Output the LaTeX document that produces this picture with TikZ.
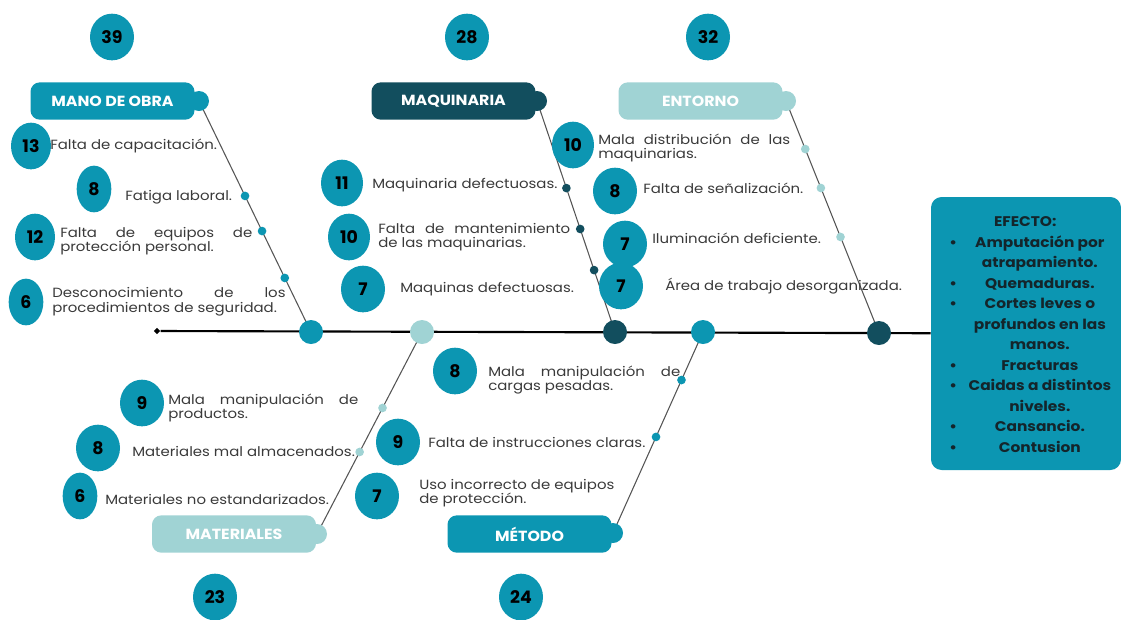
\documentclass[tikz,border=0pt]{standalone}
\usepackage{fontspec}
\setmainfont{Poppins}
\newfontfamily\causefont[FakeStretch=1.12]{Poppins}
\newfontfamily\catfont[FakeStretch=1.08]{Poppins}
\newfontfamily\efffont[FakeStretch=1.1]{Poppins}
\usepackage{tikz}
\usetikzlibrary{positioning,shapes.geometric,backgrounds}
\definecolor{tealc}{HTML}{0C96B2}
\definecolor{navyc}{HTML}{124E5E}
\definecolor{lightc}{HTML}{A0D3D4}
\definecolor{causetxt}{HTML}{3A3A3A}
\definecolor{efftxt}{HTML}{14252B}
\definecolor{bonec}{HTML}{555555}
\newcommand{\eitem}[1]{\textbullet\hspace{9pt}\makebox[106pt]{#1}}
\newcommand{\econt}[1]{\phantom{\textbullet}\hspace{9pt}\makebox[106pt]{#1}}

\begin{document}
\begin{tikzpicture}[x=0.75pt,y=-0.75pt,
  numdot/.style={ellipse,fill=tealc,minimum width=33pt,minimum height=35pt,inner sep=0pt,font=\fontsize{13}{13}\selectfont\bfseries},
  narrowdot/.style={minimum width=26pt},
  cause/.style={anchor=west,inner sep=0pt,text=causetxt,font=\causefont\fontsize{10}{11}\selectfont},
  twoline/.style={cause,text width=#1,align=justify},
  catbox/.style={rectangle,rounded corners=7pt,minimum width=123pt,minimum height=28pt,text=white,font=\catfont\fontsize{11}{12}\selectfont\bfseries},
  knob/.style={circle,minimum size=15pt,inner sep=0pt},
  spdot/.style={circle,minimum size=18pt,inner sep=0pt},
  bdot/.style={circle,minimum size=6.5pt,inner sep=0pt},
  bone/.style={draw=bonec,line width=0.8pt},
  spine/.style={draw=black,line width=1.6pt}]
\useasboundingbox (0,0) rectangle (1121,619);

\foreach \nm/\x/\y/\v in {mano/112/37/39,maq/467/37/28,ent/708/37/32,mat/215/597/23,met/521/597/24}
  \node[numdot] (tot\nm) at (\x,\y) {\v};

\node[catbox,fill=tealc] (mano) at (112.5,101) {MANO DE OBRA};
\node[knob,fill=tealc] (manok) at (199,101) {};
\node[catbox,fill=navyc] (maq) at (453.5,101) {MAQUINARIA};
\node[knob,fill=navyc] (maqk) at (537,101) {};
\node[catbox,fill=lightc] (ent) at (700.5,101) {ENTORNO};
\node[knob,fill=lightc] (entk) at (786,101) {};
\node[catbox,fill=lightc] (mat) at (234,534) {MATERIALES};
\node[knob,fill=lightc] (matk) at (317,534) {};
\node[catbox,fill=tealc] (met) at (529.5,534) {MÉTODO};
\node[knob,fill=tealc] (metk) at (613,533) {};

\node[diamond,fill=black,minimum size=5pt,inner sep=0pt] (tail) at (157,331) {};
\node[spdot,fill=tealc] (sp1) at (311,332) {};
\node[spdot,fill=lightc] (sp2) at (422,332) {};
\node[spdot,fill=navyc] (sp3) at (615,332) {};
\node[spdot,fill=tealc] (sp4) at (703,332) {};
\node[spdot,fill=navyc] (sp5) at (879,333) {};

\node[rectangle,rounded corners=8pt,fill=tealc,minimum width=142.5pt,minimum height=204.75pt] (efecto) at (1026,333.5) {};
\node[text=efftxt,font=\efffont\fontsize{10.5}{15.4}\selectfont\bfseries,align=left,inner sep=0pt] (efectotxt) at (1030,334.5) {%
\econt{EFECTO:\hspace{22pt}}\\
\eitem{Amputación por}\\
\econt{atrapamiento.}\\
\eitem{Quemaduras.}\\
\eitem{Cortes leves o}\\
\econt{profundos en las}\\
\econt{manos.}\\
\eitem{Fracturas}\\
\eitem{Caidas a distintos}\\
\econt{niveles.}\\
\eitem{Cansancio.}\\
\eitem{Contusion}};

\path (manok.center) -- (sp1.center) node[bdot,fill=tealc,pos=.411] (b1) {} node[bdot,fill=tealc,pos=.563] (b2) {} node[bdot,fill=tealc,pos=.766] (b3) {};
\path (maqk.center) -- (sp3.center) node[bdot,fill=navyc,pos=.377] (b4) {} node[bdot,fill=navyc,pos=.554] (b5) {} node[bdot,fill=navyc,pos=.732] (b6) {};
\path (entk.center) -- (sp5.center) node[bdot,fill=lightc,pos=.207] (b7) {} node[bdot,fill=lightc,pos=.375] (b8) {} node[bdot,fill=lightc,pos=.586] (b9) {};
\path (matk.center) -- (sp2.center) node[bdot,fill=lightc,pos=.406] (b10) {} node[bdot,fill=lightc,pos=.624] (b11) {};
\path (metk.center) -- (sp4.center) node[bdot,fill=tealc,pos=.478] (b12) {} node[bdot,fill=tealc,pos=.761] (b13) {};

\node[numdot,minimum width=30pt] (mo1) at (31,146) {13};
\node[cause] (tmo1) at (50,146) {Falta de capacitación.};
\node[numdot,narrowdot] (mo2) at (94,189) {8};
\node[cause] (tmo2) at (125,197) {Fatiga laboral.};
\node[numdot,minimum width=30pt] (mo3) at (35,237) {12};
\node[twoline=144pt] (tmo3) at (60,241) {Falta de equipos de\linebreak protección personal.};
\node[numdot,narrowdot] (mo4) at (26,302) {6};
\node[twoline=175pt] (tmo4) at (52,302) {Desconocimiento de los\linebreak procedimientos de seguridad.};

\node[numdot,minimum width=31.5pt] (mq1) at (342,183) {11};
\node[cause] (tmq1) at (372,185) {Maquinaria defectuosas.};
\node[numdot,minimum width=31.5pt] (mq2) at (349,237) {10};
\node[twoline=144pt] (tmq2) at (378,237) {Falta de mantenimiento\linebreak de las maquinarias.};
\node[numdot] (mq3) at (363,289) {7};
\node[cause] (tmq3) at (400,289) {Maquinas defectuosas.};

\node[numdot,minimum width=31.5pt] (en1) at (573,145) {10};
\node[twoline=144pt] (ten1) at (598,148) {Mala distribución de las\linebreak maquinarias.};
\node[numdot] (en2) at (615,191) {8};
\node[cause] (ten2) at (643,188) {Falta de señalización.};
\node[numdot] (en3) at (625,244) {7};
\node[cause] (ten3) at (652,238) {Iluminación deficiente.};
\node[numdot] (en4) at (621,286) {7};
\node[cause] (ten4) at (665,286) {Área de trabajo desorganizada.};

\node[numdot] (ma1) at (142,403) {9};
\node[twoline=142.5pt] (tma1) at (168,408) {Mala manipulación de\linebreak productos.};
\node[numdot] (ma2) at (98,448) {8};
\node[cause] (tma2) at (132,451) {Materiales mal almacenados.};
\node[numdot,narrowdot] (ma3) at (80,496) {6};
\node[cause] (tma3) at (105,499) {Materiales no estandarizados.};

\node[numdot] (me1) at (455,371) {8};
\node[twoline=144pt] (tme1) at (488,380) {Mala manipulación de\linebreak cargas pesadas.};
\node[numdot] (me2) at (398,442) {9};
\node[cause] (tme2) at (428,442) {Falta de instrucciones claras.};
\node[numdot] (me3) at (377,496) {7};
\node[cause,align=left] (tme3) at (419,493) {Uso incorrecto de equipos\\de protección.};

\begin{scope}[on background layer]
\draw[spine] (tail) -- (efecto);
\foreach \a/\b in {manok/sp1,maqk/sp3,entk/sp5,matk/sp2,metk/sp4}
  \draw[bone] (\a.center) -- (\b.center);
\end{scope}
\end{tikzpicture}
\end{document}
